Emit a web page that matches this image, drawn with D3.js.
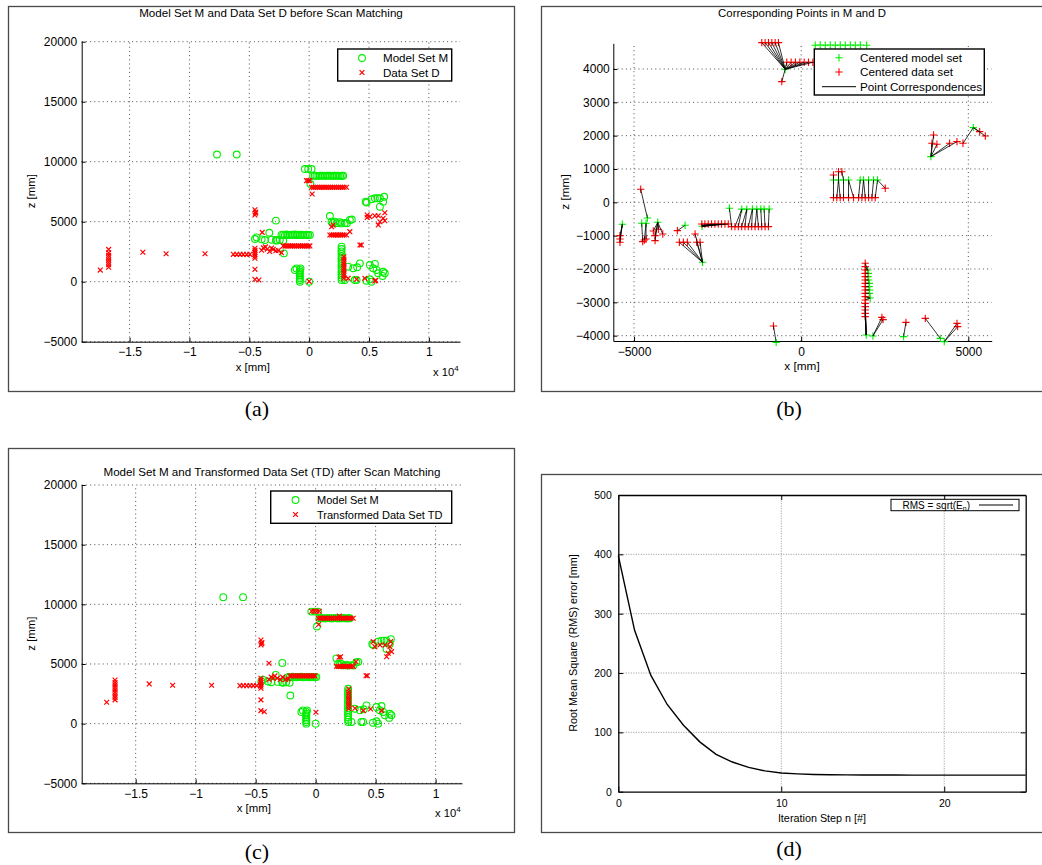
<!DOCTYPE html>
<html>
<head>
<meta charset="utf-8">
<script src="https://cdn.jsdelivr.net/npm/d3@7"></script>
<style>
  body { margin: 0; background: #fff; }
  svg text { font-family: "Liberation Sans", Arial, Helvetica, sans-serif; fill: #000; }
</style>
</head>
<body>
<svg id="fig" width="1042" height="865"></svg>
<script>
// ---------- Scan data (x, z in mm) ----------
// Model set M (reference scan), shown in panels (a) and (c)
const modelM = [
  [-7700,10600],[-6050,10600],
  [-360,9390],[-80,9390],[200,9390],
  [330,8830],[470,8840],[610,8830],[760,8820],[900,8830],[1040,8840],[1180,8830],[1330,8820],[1470,8830],[1610,8840],
  [1750,8830],[1890,8820],[2030,8830],[2170,8830],[2310,8840],[2450,8830],[2590,8820],[2730,8830],[2840,8830],
  [110,8140],
  [4720,6670],[4800,6600],[5210,6870],[5490,6950],[5700,6950],[5910,6950],[6270,7080],[6180,6670],[5910,6250],
  [1730,5470],[1870,5000],[1990,4900],[2150,5010],[2300,4880],[2560,4950],[2700,4860],[2980,4900],[3150,4870],[3400,5140],[3560,5180],
  [-2780,5090],
  [-4530,3560],[-4390,3690],[-3970,3530],[-3700,3470],[-3330,4080],[-3140,3500],[-2780,3470],[-2720,3420],[-2450,3470],[-2170,3420],[-2110,2360],
  [-2310,3900],[-2170,3920],[-2030,3890],[-1890,3930],[-1750,3900],[-1610,3890],[-1470,3920],[-1330,3900],[-1190,3930],
  [-1050,3890],[-910,3910],[-770,3900],[-630,3920],[-490,3890],[-350,3900],[-210,3910],[-70,3890],[60,3900],
  [-1190,970],[-1060,1110],[-720,1110],
  [-780,0],[-780,140],[-780,280],[-780,420],[-780,560],[-780,700],[-780,840],[-780,980],
  [0,0],
  [2710,2920],[2710,2720],[2700,2520],[2710,2320],[2710,2120],[2700,1920],[2710,1720],[2710,1520],[2700,1320],[2710,1120],
  [2710,920],[2700,720],[2710,520],[2710,330],[2710,140],
  [2980,140],[3260,1250],[3680,1120],[4010,1200],[4240,1530],[3810,140],[3960,140],[4780,80],[5070,200],[5210,0],
  [5070,1390],[5490,1480],[5350,1120],[5630,980],[6180,830],[6320,700],[5770,700],[6130,480]
];

// Data set D before scan matching, panel (a)
const dataD = [
  [-17450,970],
  [-16750,1200],[-16750,1410],[-16750,1600],[-16750,1800],[-16750,2010],[-16750,2200],[-16750,2410],[-16750,2690],
  [-13890,2450],[-11950,2330],[-8700,2330],
  [-6330,2280],[-6050,2280],[-5770,2280],[-5500,2280],[-5220,2280],[-4950,2280],
  [-4530,1950],[-4530,2120],[-4530,2290],[-4530,2460],[-4530,2620],[-4530,2780],
  [-4530,5560],[-4460,5800],[-4530,6000],[-4480,5700],
  [-4530,1030],[-4530,190],[-4200,140],
  [-3920,4110],
  [-3970,2620],[-3820,2820],[-3650,2900],[-3500,2720],[-3300,2520],[-3140,2800],[-3000,2700],[-2780,2580],[-2580,2600],[-2310,2420],
  [-2170,2980],[-2010,2970],[-1850,2990],[-1690,2980],[-1530,2970],[-1370,2980],[-1210,2990],[-1050,2970],
  [-890,2980],[-730,2980],[-570,2970],[-410,2990],[-250,2980],[-90,2970],[60,2980],
  [0,30],
  [-220,8420],[-80,8420],[60,8420],
  [200,7870],[360,7860],[520,7870],[680,7870],[840,7860],[1000,7870],[1160,7870],[1320,7860],[1480,7870],[1640,7870],
  [1800,7860],[1960,7870],[2120,7870],[2280,7860],[2440,7870],[2600,7870],[2760,7860],[2920,7870],[3120,7870],
  [250,7310],
  [1870,4580],[2000,4720],
  [1730,3890],[1880,3890],[2030,3900],[2180,3890],[2330,3880],[2480,3890],[2630,3900],[2780,3890],[2930,3890],[3120,3890],
  [3400,4170],[4240,3060],[4360,3060],
  [2900,290],[2900,490],[2900,690],[2900,890],[2900,1090],[2900,1290],[2900,1490],[2900,1690],[2900,1890],[2900,2080],
  [3260,280],[3960,200],[4650,280],[5490,60],[5560,110],
  [4850,5560],[4850,5350],[5070,5420],[5490,5500],[5770,5500],[6320,5750],[6180,5280],[5910,5000],[6320,5080],[5770,4730]
];

// Transformed data set TD after scan matching, panel (c)
const transformedTD = [
  [-17420,1790],
  [-16720,1990],[-16720,2200],[-16720,2400],[-16720,2620],[-16720,2830],[-16720,3040],[-16720,3250],[-16720,3450],[-16720,3660],
  [-13870,3330],[-11920,3220],[-8670,3220],
  [-6310,3180],[-6030,3180],[-5750,3180],[-5470,3180],[-5200,3180],[-4920,3180],
  [-4560,2970],[-4560,3140],[-4560,3310],[-4560,3470],[-4560,3640],[-4560,3800],
  [-4560,6590],[-4480,6800],[-4560,7010],[-4500,6700],
  [-4560,1990],[-4560,1090],[-4280,1000],
  [-3890,5060],
  [-3900,3700],[-3700,3900],[-3550,3800],[-3400,4000],[-3200,3800],[-2950,3700],[-2750,3900],[-2500,3700],[-2300,3750],
  [-2140,4000],[-1990,3990],[-1840,4010],[-1690,4000],[-1540,3990],[-1390,4000],[-1240,4010],[-1090,4000],
  [-940,3990],[-790,4000],[-640,4010],[-490,4000],[-340,3990],[-190,4000],[-60,4000],
  [-330,9420],[-120,9420],[100,9420],[300,9420],
  [220,8830],[380,8840],[540,8830],[700,8830],[860,8840],[1020,8830],[1180,8830],[1340,8840],[1500,8830],[1660,8830],
  [1820,8840],[1970,9020],[1980,8830],[2140,8830],[2300,8840],[2460,8830],[2620,8830],[2780,8840],[2940,8830],[3130,8830],
  [250,8310],
  [1750,4800],[1900,4790],[2050,4810],[2200,4800],[2350,4790],[2500,4800],[2650,4810],[2800,4800],[2950,4790],[3130,4800],
  [1950,5560],[2080,5600],[3360,5190],
  [4200,4010],[4310,4010],
  [4800,6870],[4940,6450],[5360,6590],[5780,6590],[6050,5900],[6190,6450],[6250,6870],[6330,6030],[5920,5610],
  [2760,1250],[2760,1450],[2760,1650],[2760,1850],[2760,2050],[2760,2250],[2760,2450],[2760,2650],[2760,2900],
  [3280,1290],[3970,1090],[4580,1230],[5500,1090],
  [25,955]
];

// Centered model set, panel (b)
const centeredModel = [
  [-479,3990],
  [420,4710],[570,4720],[720,4710],[870,4720],[1020,4710],[1170,4720],[1320,4710],[1470,4720],[1620,4710],[1770,4720],[1960,4710],
  [3882,1370],
  [5150,2240],
  [967,670],[1117,670],[1267,670],[1417,670],[1766,670],[1866,670],[2016,670],[2166,670],[2284,670],
  [-5350,-660],
  [-4600,-470],
  [-4770,-630],
  [-4640,-630],
  [-4290,-600],
  [-3473,-690],
  [-2950,-1800],
  [-2964,-720],
  [-2146,-180],
  [-1776,-205],[-1626,-205],[-1458,-200],[-1327,-205],[-1207,-200],[-1108,-205],[-958,-200],
  [1990,-2030],[2010,-2130],[2000,-2230],[2020,-2330],[2040,-2430],[2030,-2530],[2050,-2630],[2040,-2730],[2066,-2870],
  [1946,-3980],
  [2146,-4010],
  [3064,-4030],
  [4162,-4080],
  [4281,-4180],
  [-748,-4200]
];

// Centered data set, panel (b)
const centeredData = [
  [-1178,4790],[-1078,4790],[-978,4790],[-878,4790],[-779,4790],[-679,4790],
  [-430,4200],[-300,4200],[-170,4200],[-40,4200],[90,4200],[220,4200],[350,4200],
  [-579,3620],
  [3962,2020],[3912,1770],[4062,1740],[4441,1770],[4661,1820],[4840,1770],[5340,2120],[5509,1990],
  [967,819],[1117,919],[1217,919],
  [967,140],[1067,140],[1167,140],[1267,140],[1417,140],[1567,140],[1717,140],[1817,140],[1917,140],[2017,140],[2117,140],[2216,140],
  [2515,420],
  [-5420,-1000],[-5420,-1100],[-5420,-1200],
  [-4800,390],
  [-4740,-1180],[-4690,-1130],[-4640,-1100],
  [-4422,-860],[-4371,-1000],[-4371,-1150],[-4272,-810],[-4141,-950],
  [-3703,-850],
  [-3643,-1200],[-3523,-1200],[-3404,-1200],[-3174,-950],[-3124,-1200],[-3024,-1200],
  [-2973,-650],[-2880,-650],[-2780,-650],[-2680,-650],[-2580,-650],[-2480,-650],[-2380,-650],[-2280,-650],[-2180,-650],
  [-2080,-730],[-1980,-730],[-1880,-730],[-1780,-730],[-1680,-730],[-1580,-730],[-1480,-730],[-1380,-730],[-1280,-730],
  [-1180,-730],[-1080,-730],[-980,-730],
  [1916,-1830],[1916,-1930],[1916,-2030],[1916,-2130],[1916,-2230],[1916,-2330],[1916,-2430],[1916,-2530],[1916,-2630],
  [1916,-2730],[1916,-2830],[1916,-2930],[1916,-3030],[1916,-3130],[1916,-3230],[1916,-3330],[1916,-3430],
  [2415,-3450],[2450,-3520],
  [3134,-3600],
  [3713,-3480],
  [4662,-3630],[4681,-3730],
  [-828,-3710]
];

// Index into centeredModel of the point each data point was matched to
const matchIndex = [
  0,0,0,0,0,0,
  0,0,0,0,0,0,0,
  0,
  12,12,12,12,12,13,13,13,
  14,15,16,
  14,15,15,16,17,17,18,19,19,20,21,22,
  22,
  23,23,23,
  24,
  25,26,26,
  27,27,27,27,27,
  28,
  29,29,29,29,29,29,
  30,30,30,30,30,30,30,30,30,
  31,32,32,33,33,34,34,35,35,
  36,37,38,
  39,39,39,40,41,42,43,44,45,
  46,47,47,48,48,48,48,48,
  49,49,
  50,
  51,
  52,52,
  53
];

// RMS error per ICP iteration, panel (d)
const iterationSteps = d3.range(0, 26);
const rmsError = [398, 272, 196, 147, 112, 84, 63, 50, 41, 35, 31.5, 30, 29, 28.6, 28.3, 28.2, 28.1, 28.1, 28, 28, 28, 28, 28, 28, 28, 28];

// Tick values
const xTicksAC = [-15000, -10000, -5000, 0, 5000, 10000];
const zTicksAC = [-5000, 0, 5000, 10000, 15000, 20000];
const xTicksB = [-5000, 0, 5000];
const zTicksB = [-4000, -3000, -2000, -1000, 0, 1000, 2000, 3000, 4000];
const xTicksD = [0, 10, 20];
const yTicksD = [0, 100, 200, 300, 400, 500];

// ---------- drawing helpers ----------
const svg = d3.select("#fig");
const GREEN = "#00ee00", RED = "#ff0000";
const minus = v => (v < 0 ? "\u2212" + Math.abs(v) : String(v));

function frame(x0, y0, x1, y1) {
  svg.append("rect").attr("x", x0 + 0.5).attr("y", y0 + 0.5)
    .attr("width", x1 - x0).attr("height", y1 - y0)
    .attr("fill", "none").attr("stroke", "#4a4a4a").attr("stroke-width", 1.3);
}

function caption(txt, cx, y) {
  svg.append("text").attr("x", cx).attr("y", y).attr("text-anchor", "middle")
    .style("font-family", "'Liberation Serif', 'DejaVu Serif', serif").style("font-size", "22px").text(txt);
}

function matlabAxes(x, y, xt, yt, xfmt, opt) {
  const g = svg.append("g");
  const [xl, xr] = x.range(), [yb, yt0] = y.range();
  // dotted grid
  const grid = g.append("g").attr("stroke", "#222").attr("stroke-width", 0.8).attr("stroke-dasharray", "1,3.2");
  xt.forEach(v => grid.append("line").attr("x1", x(v)).attr("x2", x(v)).attr("y1", yb).attr("y2", yt0));
  yt.forEach(v => grid.append("line").attr("y1", y(v)).attr("y2", y(v)).attr("x1", xl).attr("x2", xr));
  const ax = g.append("g").attr("transform", `translate(0,${yb})`)
    .call(d3.axisBottom(x).tickValues(xt).tickFormat(xfmt).tickSize(-4).tickSizeOuter(0).tickPadding(opt.xpad));
  const ay = g.append("g").attr("transform", `translate(${xl},0)`)
    .call(d3.axisLeft(y).tickValues(yt).tickFormat(minus).tickSize(-4).tickSizeOuter(0).tickPadding(opt.ypad));
  [ax, ay].forEach(a => {
    a.selectAll("text").style("font-size", opt.fs + "px").style("font-family", "'Liberation Sans', Arial, sans-serif");
    a.select(".domain").attr("stroke", "#000").attr("stroke-width", 1);
    a.selectAll(".tick line").attr("stroke", "#000");
  });
  return g;
}

function circles(g, data, x, y) {
  g.append("g").selectAll("circle").data(data).join("circle")
    .attr("cx", d => x(d[0])).attr("cy", d => y(d[1])).attr("r", 3.4)
    .attr("fill", "none").attr("stroke", GREEN).attr("stroke-width", 1.1);
}
const crossPath = (cx, cy, s) => `M${cx - s},${cy - s}L${cx + s},${cy + s}M${cx - s},${cy + s}L${cx + s},${cy - s}`;
const plusPath = (cx, cy, s) => `M${cx - s},${cy}L${cx + s},${cy}M${cx},${cy - s}L${cx},${cy + s}`;
function crosses(g, data, x, y) {
  g.append("g").selectAll("path").data(data).join("path")
    .attr("d", d => crossPath(x(d[0]), y(d[1]), 2.4))
    .attr("fill", "none").attr("stroke", RED).attr("stroke-width", 1.2);
}

function scatterPanel(o) {
  const x = d3.scaleLinear().domain(o.xdom).range(o.xr);
  const y = d3.scaleLinear().domain([-5000, 20000]).range(o.yr);
  const g = matlabAxes(x, y, xTicksAC, zTicksAC, v => minus(v / 10000), { xpad: 6, ypad: 4.5, fs: 12 });
  circles(g, modelM, x, y);
  crosses(g, o.red, x, y);
  // title and labels
  svg.append("text").attr("x", o.tx).attr("y", o.ty).attr("text-anchor", "middle").style("font-size", "11.6px").text(o.title);
  svg.append("text").attr("x", (o.xr[0] + o.xr[1]) / 2 - 18).attr("y", o.yr[0] + 29).attr("text-anchor", "middle")
    .style("font-size", "11.4px").text("x [mm]");
  const ex = svg.append("text").attr("x", o.xr[1] - 27).attr("y", o.yr[0] + 34).style("font-size", "11.2px");
  ex.append("tspan").text("x 10");
  ex.append("tspan").attr("dy", -5).style("font-size", "8px").text("4");
  svg.append("text").attr("transform", `translate(34.5,${(o.yr[0] + o.yr[1]) / 2 - 0.5}) rotate(-90)`)
    .attr("text-anchor", "middle").style("font-size", "11.4px").text("z [mm]");
  // legend
  const L = o.leg;
  svg.append("rect").attr("x", L.x0).attr("y", L.y0).attr("width", L.x1 - L.x0).attr("height", L.y1 - L.y0)
    .attr("fill", "#fff").attr("stroke", "#000").attr("stroke-width", 1.4);
  svg.append("circle").attr("cx", L.mx).attr("cy", L.r1).attr("r", 3.4).attr("fill", "none").attr("stroke", GREEN).attr("stroke-width", 1.1);
  svg.append("path").attr("d", crossPath(L.mx, L.r2, 2.4)).attr("stroke", RED).attr("stroke-width", 1.2).attr("fill", "none");
  svg.append("text").attr("x", L.tx).attr("y", L.r1 + 4).style("font-size", L.fs).text(L.t1);
  svg.append("text").attr("x", L.tx).attr("y", L.r2 + 4).style("font-size", L.fs).text(L.t2);
}

// ---------- figure frames and captions ----------
frame(8, 6, 514, 391);
frame(541, 6, 1050, 391);
frame(8, 448, 514, 832);
frame(541, 474, 1050, 832);
caption("(a)", 257, 416);
caption("(b)", 789, 416);
caption("(c)", 257, 859);
caption("(d)", 789, 856);

// ---------- (a) before scan matching ----------
scatterPanel({
  xdom: [-19000, 12600], xr: [81.7, 460], yr: [341.7, 41.7],
  red: dataD, title: "Model Set M and Data Set D before Scan Matching", tx: 271, ty: 17,
  leg: { x0: 337.7, y0: 49, x1: 451.7, y1: 81, mx: 362, r1: 58, r2: 72.5, tx: 383, fs: "11.6px", t1: "Model Set M", t2: "Data Set D" }
});

// ---------- (c) after scan matching ----------
scatterPanel({
  xdom: [-19500, 12200], xr: [81.7, 462], yr: [783.3, 485],
  red: transformedTD, title: "Model Set M and Transformed Data Set (TD) after Scan Matching", tx: 272, ty: 476,
  leg: { x0: 270.7, y0: 491, x1: 451.7, y1: 523.3, mx: 295.5, r1: 500, r2: 514.5, tx: 317, fs: "11px", t1: "Model Set M", t2: "Transformed Data Set TD" }
});

// ---------- (b) corresponding points ----------
(function () {
  const x = d3.scaleLinear().domain([-5620, 5700]).range([613.3, 991.7]);
  const y = d3.scaleLinear().domain([-4160, 4770]).range([341, 43.3]);
  const g = matlabAxes(x, y, xTicksB, zTicksB, minus, { xpad: 6.3, ypad: 3.5, fs: 12 });
  g.append("g").selectAll("path").data(centeredModel).join("path")
    .attr("d", d => plusPath(x(d[0]), y(d[1]), 3.7)).attr("stroke", GREEN).attr("stroke-width", 1.1).attr("fill", "none");
  g.append("g").selectAll("path").data(centeredData).join("path")
    .attr("d", d => plusPath(x(d[0]), y(d[1]), 3.7)).attr("stroke", RED).attr("stroke-width", 1.1).attr("fill", "none");
  g.append("g").selectAll("line").data(centeredData).join("line")
    .attr("x1", d => x(d[0])).attr("y1", d => y(d[1]))
    .attr("x2", (d, i) => x(centeredModel[matchIndex[i]][0])).attr("y2", (d, i) => y(centeredModel[matchIndex[i]][1]))
    .attr("stroke", "#000").attr("stroke-width", 0.8);
  svg.append("text").attr("x", 802).attr("y", 17).attr("text-anchor", "middle").style("font-size", "11.4px")
    .text("Corresponding Points in M and D");
  svg.append("text").attr("x", 802).attr("y", 370).attr("text-anchor", "middle").style("font-size", "11.8px").text("x [mm]");
  svg.append("text").attr("transform", "translate(569,192) rotate(-90)").attr("text-anchor", "middle")
    .style("font-size", "11.8px").text("z [mm]");
  // legend
  svg.append("rect").attr("x", 814.3).attr("y", 49).attr("width", 170).attr("height", 46)
    .attr("fill", "#fff").attr("stroke", "#000").attr("stroke-width", 1.4);
  svg.append("path").attr("d", plusPath(839, 57.7, 3.7)).attr("stroke", GREEN).attr("stroke-width", 1.1);
  svg.append("path").attr("d", plusPath(839, 72, 3.7)).attr("stroke", RED).attr("stroke-width", 1.1);
  svg.append("line").attr("x1", 822).attr("x2", 856).attr("y1", 86.7).attr("y2", 86.7).attr("stroke", "#000");
  [["Centered model set", 57.7], ["Centered data set", 72], ["Point Correspondences", 86.7]].forEach(([t, yy]) =>
    svg.append("text").attr("x", 860).attr("y", yy + 4.2).style("font-size", "11.7px").text(t));
})();

// ---------- (d) RMS error ----------
(function () {
  const x = d3.scaleLinear().domain([0, 25]).range([618.3, 1025.7]);
  const y = d3.scaleLinear().domain([0, 500]).range([791.7, 495]);
  const g = svg.append("g");
  const grid = g.append("g").attr("stroke", "#8a8a8a").attr("stroke-width", 0.9).attr("stroke-dasharray", "1,1.5");
  xTicksD.filter(v => v > 0).forEach(v => grid.append("line").attr("x1", x(v)).attr("x2", x(v)).attr("y1", y(0)).attr("y2", y(500)));
  yTicksD.filter(v => v > 0 && v < 500).forEach(v => grid.append("line").attr("y1", y(v)).attr("y2", y(v)).attr("x1", x(0)).attr("x2", x(25)));
  const fs = "10.5px";
  const ax = g.append("g").attr("transform", `translate(0,${y(0)})`)
    .call(d3.axisBottom(x).tickValues(xTicksD).tickSize(-5).tickSizeOuter(0).tickPadding(7.5));
  const axT = g.append("g").attr("transform", `translate(0,${y(500)})`)
    .call(d3.axisTop(x).tickValues(xTicksD).tickFormat("").tickSize(-5).tickSizeOuter(0));
  const ay = g.append("g").attr("transform", `translate(${x(0)},0)`)
    .call(d3.axisLeft(y).tickValues(yTicksD).tickSize(-5).tickSizeOuter(0).tickPadding(6.5));
  const ayR = g.append("g").attr("transform", `translate(${x(25)},0)`)
    .call(d3.axisRight(y).tickValues(yTicksD).tickFormat("").tickSize(-5).tickSizeOuter(0));
  [ax, axT, ay, ayR].forEach(a => {
    a.selectAll("text").style("font-size", fs).style("font-family", "'Liberation Sans', Arial, sans-serif");
    a.select(".domain").attr("stroke", "#000").attr("stroke-width", 1.3);
    a.selectAll(".tick line").attr("stroke", "#000");
  });
  const line = d3.line().x((d, i) => x(iterationSteps[i])).y(d => y(d));
  g.append("path").datum(rmsError).attr("d", line).attr("fill", "none").attr("stroke", "#000").attr("stroke-width", 1.4);
  svg.append("text").attr("x", 822).attr("y", 821.5).attr("text-anchor", "middle").style("font-size", "10.8px").text("Iteration Step n [#]");
  svg.append("text").attr("transform", "translate(577,643) rotate(-90)").attr("text-anchor", "middle")
    .style("font-size", "10.8px").text("Root Mean Square (RMS) error [mm]");
  // legend
  svg.append("rect").attr("x", 891).attr("y", 499.3).attr("width", 128).attr("height", 11.4)
    .attr("fill", "#fff").attr("stroke", "#000").attr("stroke-width", 1);
  const lt = svg.append("text").attr("x", 902.5).attr("y", 508.5).style("font-size", "10px");
  lt.append("tspan").text("RMS = sqrt(E");
  lt.append("tspan").attr("dy", 2.5).style("font-size", "7px").text("n");
  lt.append("tspan").attr("dy", -2.5).text(")");
  svg.append("line").attr("x1", 979).attr("x2", 1013).attr("y1", 505).attr("y2", 505).attr("stroke", "#000").attr("stroke-width", 1.2);
})();
</script>
</body>
</html>
